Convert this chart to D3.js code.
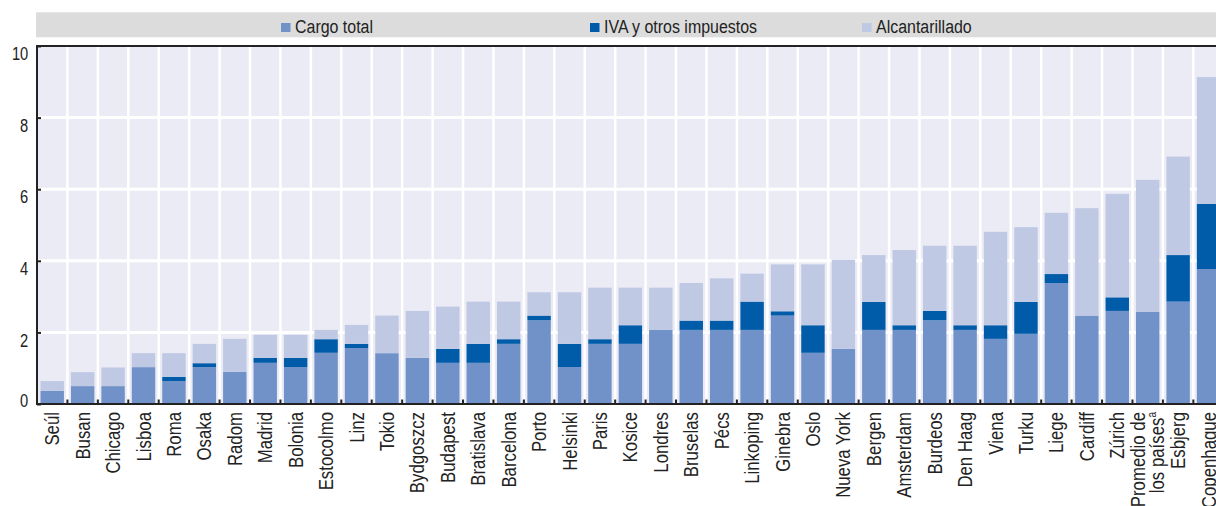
<!DOCTYPE html>
<html>
<head>
<meta charset="utf-8">
<script src="https://cdn.jsdelivr.net/npm/d3@7"></script>
<style>
  html, body { margin: 0; padding: 0; background: #ffffff; }
  svg { display: block; }
  text { font-family: "Liberation Sans", Arial, sans-serif; fill: #222; }
</style>
</head>
<body>
<div id="chart"></div>
<script>
// ---- data ----
const categories = ["Seúl","Busan","Chicago","Lisboa","Roma","Osaka","Radom","Madrid","Bolonia","Estocolmo","Linz","Tokio","Bydgoszcz","Budapest","Bratislava","Barcelona","Porto","Helsinki","Paris","Kosice","Londres","Bruselas","Pécs","Linkoping","Ginebra","Oslo","Nueva York","Bergen","Amsterdam","Burdeos","Den Haag","Viena","Turku","Liege","Cardiff","Zúrich","Promedio de los países","Esbjerg","Copenhague"];
const cargoTotal = [0.37,0.50,0.50,1.03,0.64,1.03,0.90,1.15,1.03,1.43,1.56,1.42,1.29,1.15,1.15,1.68,2.34,1.03,1.68,1.68,2.07,2.07,2.07,2.07,2.47,1.43,1.54,2.07,2.07,2.34,2.07,1.82,1.96,3.38,2.47,2.60,2.58,2.86,3.77];
const ivaImpuestos = [0,0,0,0,0.12,0.11,0,0.14,0.26,0.38,0.12,0,0,0.39,0.53,0.13,0.13,0.65,0.13,0.52,0,0.26,0.26,0.79,0.12,0.77,0,0.78,0.13,0.26,0.13,0.38,0.89,0.25,0,0.38,0,1.30,1.82];
const alcantarillado = [0.27,0.39,0.52,0.39,0.66,0.54,0.92,0.64,0.64,0.26,0.53,1.05,1.31,1.18,1.18,1.05,0.65,1.44,1.44,1.05,1.18,1.05,1.18,0.78,1.31,1.70,2.49,1.31,2.10,1.82,2.22,2.61,2.09,1.71,3.00,2.89,3.68,2.75,3.54];
const seriesNames = ["Cargo total","IVA y otros impuestos","Alcantarillado"];
const yTicks = [0,2,4,6,8,10];

// ---- layout ----
const W = 1216, H = 506;
const plotLeft = 37, plotTop = 46, plotBottom = 404;
const step = 30.43;
const colors = ["#7192c8", "#005ca8", "#bfc9e4"];
const narrow = 0.84;

const keys = ["cargo","iva","alc"];
const table = categories.map((c, i) => ({cat: c, cargo: cargoTotal[i], iva: ivaImpuestos[i], alc: alcantarillado[i]}));

const svg = d3.select("#chart").append("svg").attr("width", W).attr("height", H);

const x = d3.scaleBand().domain(categories)
  .range([plotLeft, plotLeft + step * categories.length])
  .paddingInner(0.23).paddingOuter(0.115);
const y = d3.scaleLinear().domain([0, 10]).range([plotBottom, plotTop]);

// legend band
const legend = svg.append("g");
legend.append("rect").attr("x", 36).attr("y", 12.3).attr("width", W - 36).attr("height", 25).attr("fill", "#dcdcdc");
const legendX = [281, 590, 862];
seriesNames.forEach((name, i) => {
  legend.append("rect").attr("x", legendX[i]).attr("y", 23).attr("width", 9.5).attr("height", 9).attr("fill", colors[i]);
  legend.append("text")
    .attr("transform", `translate(${legendX[i] + 14},32.5) scale(${narrow},1)`)
    .attr("font-size", 19).text(name);
});

// plot background
svg.append("rect").attr("x", plotLeft).attr("y", plotTop).attr("width", W - plotLeft).attr("height", plotBottom - plotTop).attr("fill", "#ebebf5");

// horizontal grid
svg.append("g").selectAll("line").data(yTicks.filter(v => v > 0 && v < 10)).join("line")
  .attr("x1", plotLeft).attr("x2", W).attr("y1", d => y(d)).attr("y2", d => y(d))
  .attr("stroke", "#ffffff").attr("stroke-width", 3);

// vertical grid at band boundaries
const boundary = d => x(d) + x.bandwidth() + x.step() * x.paddingInner() / 2;
svg.append("g").selectAll("line").data(categories).join("line")
  .attr("x1", d => boundary(d)).attr("x2", d => boundary(d))
  .attr("y1", plotTop).attr("y2", plotBottom)
  .attr("stroke", "#ffffff").attr("stroke-width", 2.5);

// stacked bars
const stacked = d3.stack().keys(keys)(table);
svg.append("g").selectAll("g").data(stacked).join("g")
  .attr("fill", (d, i) => colors[i])
  .selectAll("rect").data(d => d).join("rect")
  .attr("x", d => x(d.data.cat))
  .attr("width", x.bandwidth())
  .attr("y", d => y(d[1]))
  .attr("height", d => Math.max(0, y(d[0]) - y(d[1])));

// top border
svg.append("line").attr("x1", 36).attr("x2", W).attr("y1", plotTop).attr("y2", plotTop)
  .attr("stroke", "#222").attr("stroke-width", 2);

// y axis
const yAxis = svg.append("g").attr("transform", `translate(${plotLeft},0)`)
  .call(d3.axisLeft(y).tickValues(yTicks).tickSize(-4).tickPadding(10.4).tickFormat(d3.format("d")));
yAxis.select(".domain").attr("stroke", "#222").attr("stroke-width", 2).attr("d", `M0,${plotTop}V${plotBottom}`);
yAxis.selectAll(".tick line").attr("stroke", "#222").attr("stroke-width", 2);
yAxis.selectAll(".tick text")
  .attr("font-family", '"Liberation Sans", Arial, sans-serif')
  .attr("font-size", 17.5).attr("fill", "#222")
  .attr("transform", `scale(${narrow},1)`)
  .attr("dy", d => d === 0 ? "0.15em" : "0.78em");

// x axis
const xAxisG = svg.append("g");
xAxisG.append("line").attr("x1", plotLeft - 1).attr("x2", W).attr("y1", plotBottom).attr("y2", plotBottom)
  .attr("stroke", "#222").attr("stroke-width", 2);
xAxisG.selectAll("line.tick").data(categories).join("line").attr("class", "tick")
  .attr("x1", d => boundary(d)).attr("x2", d => boundary(d))
  .attr("y1", plotBottom).attr("y2", plotBottom - 4.5)
  .attr("stroke", "#222").attr("stroke-width", 2);

// x labels
const labelTop = 412;
const labels = svg.append("g");
categories.forEach(c => {
  const cx = x(c) + x.bandwidth() / 2;
  if (c === "Promedio de los países") {
    const t1 = labels.append("text")
      .attr("transform", `translate(${cx - 9.5},${labelTop}) rotate(-90) scale(${narrow},1)`)
      .attr("text-anchor", "end").attr("dy", "0.35em").attr("font-size", 20);
    t1.text("Promedio de");
    const t2 = labels.append("text")
      .attr("transform", `translate(${cx + 9.5},${labelTop}) rotate(-90) scale(${narrow},1)`)
      .attr("text-anchor", "end").attr("dy", "0.35em").attr("font-size", 20);
    t2.append("tspan").text("los países");
    t2.append("tspan").attr("font-size", 12).attr("dy", "-0.7em").text("a");
  } else {
    labels.append("text")
      .attr("transform", `translate(${cx},${labelTop}) rotate(-90) scale(${narrow},1)`)
      .attr("text-anchor", "end").attr("dy", "0.35em").attr("font-size", 20)
      .text(c);
  }
});
</script>
</body>
</html>
